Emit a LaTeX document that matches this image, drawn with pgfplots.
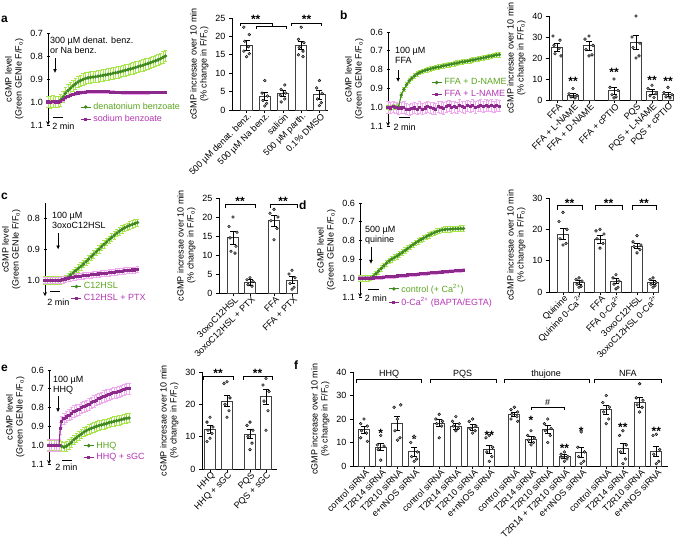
\documentclass[border=0pt]{standalone}
\usepackage{fontspec}
\setmainfont{Liberation Sans}
\setsansfont{Liberation Sans}
\usepackage{pgfplots}
\usepackage{pgfplotstable}
\pgfplotsset{compat=1.18}
\usetikzlibrary{arrows.meta}

\definecolor{dgreen}{HTML}{3E8A1E}
\definecolor{lgreen}{HTML}{A8E64C}
\definecolor{dpurp}{HTML}{8C2A8C}
\definecolor{lpink}{HTML}{F0A8F0}
\definecolor{tgreen}{HTML}{5AA51E}
\definecolor{tpurp}{HTML}{B436B4}
\definecolor{barln}{HTML}{404040}
\definecolor{dotc}{HTML}{A0A0A0}

\newcommand{\fs}{\fontsize{9}{10}\selectfont}
\newcommand{\Fo}{F/F\textsubscript{o}}
\newcommand{\Ca}{Ca\textsuperscript{2+}}
\newcommand{\brk}[4]{\draw[line width=0.7pt] (axis cs:#1,#4) |- (axis cs:#2,#3) -- (axis cs:#2,#4);}
% star glyphs sit high in the font: put their visual centre on the value
\newcommand{\sig}[3]{\node[font=\bfseries\fontsize{12}{12}\selectfont, inner sep=0pt, anchor=base, yshift=-6.8pt] at (axis cs:#1,#2) {#3};}
\newcommand{\plab}[3]{\node[anchor=base west, font=\bfseries\fontsize{12}{12}\selectfont, inner sep=0pt] at (#1pt,-#2pt) {#3};}
\newcommand{\stim}[3]{\draw[-{Latex[length=4pt,width=4pt]}, line width=0.9pt] (axis cs:#1,#2) -- (axis cs:#1,#3);}

\pgfplotsset{
  base/.style={scale only axis, anchor=south west, clip=false,
    /pgf/number format/assume math mode=true,
    tick label style={font=\fs}, label style={font=\fs, align=center},
    axis line style={-, line width=0.7pt, black}, tick style={line width=0.7pt, black},
    tick align=outside, major tick length=3pt},
  trace/.style={base, axis x line=none, axis y line=left, y dir=reverse, xtick=\empty,
    ylabel={cGMP level\\(Green GENIe \Fo)},
    yticklabel style={/pgf/number format/.cd, fixed, fixed zerofill, precision=1},
    legend style={draw=none, fill=none, font=\fs, inner sep=0pt, row sep=0pt, anchor=north west},
    legend cell align=left,
    legend image code/.code={\draw[##1, mark repeat=2, mark phase=2] plot coordinates {(0pt,0pt) (5pt,0pt) (10pt,0pt)};}},
  barax/.style={base, axis x line*=bottom, axis y line*=left, ymin=0,
    ylabel={cGMP incresae over 10 min\\(\% change in \Fo)},
    xticklabel style={rotate=45, anchor=east, inner sep=1pt, xshift=2pt, yshift=-4pt}},
  ebg/.style={draw=none, mark=none, forget plot, error bars/.cd, y dir=both, y fixed=#1,
    error bar style={draw=lgreen, line width=0.6pt},
    error mark options={rotate=90, draw=lgreen, mark size=1.6pt, line width=0.6pt}},
  ebp/.style={draw=none, mark=none, forget plot, error bars/.cd, y dir=both, y fixed=#1,
    error bar style={draw=lpink, line width=0.6pt},
    error mark options={rotate=90, draw=lpink, mark size=1.6pt, line width=0.6pt}},
  lg/.style={dgreen, mark=*, mark size=1.15pt, line width=1.1pt},
  lp/.style={dpurp, mark=square*, mark size=1pt, line width=1.1pt},
  bars/.style={ybar, bar width=#1, bar shift=0pt, fill=white, draw=barln, line width=0.9pt,
    error bars/.cd, y dir=both, y explicit,
    error bar style={black, line width=0.8pt},
    error mark options={rotate=90, black, mark size=3pt, line width=0.8pt}},
  dots/.style={only marks, mark=*, mark size=1.4pt, mark options={draw=none, fill=dotc}},
}

% traces: time (min), F/Fo
\pgfplotstableread[row sep=\\]{t y\\0 1.000\\0.5 1.002\\1 0.998\\1.5 1.000\\2 1.000\\2.5 0.992\\3 0.978\\3.5 0.962\\4 0.950\\4.5 0.940\\5 0.930\\5.5 0.921\\6 0.913\\6.5 0.907\\7 0.902\\7.5 0.898\\8 0.895\\8.5 0.893\\9 0.891\\9.5 0.890\\10 0.888\\10.5 0.886\\11 0.884\\11.5 0.882\\12 0.880\\12.5 0.878\\13 0.875\\13.5 0.873\\14 0.871\\14.5 0.868\\15 0.865\\15.5 0.862\\16 0.859\\16.5 0.856\\17 0.853\\17.5 0.850\\18 0.847\\18.5 0.843\\19 0.840\\19.5 0.836\\20 0.833\\20.5 0.829\\21 0.825\\21.5 0.821\\22 0.817\\22.5 0.812\\23 0.806\\23.5 0.800\\}\Ag
\pgfplotstableread[row sep=\\]{t y\\0 1.000\\0.5 1.001\\1 0.999\\1.5 1.000\\2 1.000\\2.5 0.997\\3 0.990\\3.5 0.982\\4 0.975\\4.5 0.970\\5 0.966\\5.5 0.963\\6 0.961\\6.5 0.959\\7 0.958\\7.5 0.957\\8 0.956\\8.5 0.955\\9 0.955\\9.5 0.954\\10 0.954\\10.5 0.955\\11 0.955\\11.5 0.956\\12 0.956\\12.5 0.957\\13 0.957\\13.5 0.958\\14 0.958\\14.5 0.958\\15 0.959\\15.5 0.959\\16 0.959\\16.5 0.960\\17 0.960\\17.5 0.960\\18 0.960\\18.5 0.960\\19 0.959\\19.5 0.959\\20 0.959\\20.5 0.958\\21 0.958\\21.5 0.958\\22 0.958\\22.5 0.958\\23 0.958\\23.5 0.958\\}\Ap
\pgfplotstableread[row sep=\\]{t y\\0 1.000\\0.5 1.002\\1 0.998\\1.5 1.000\\2 0.998\\2.5 0.935\\3 0.905\\3.5 0.880\\4 0.860\\4.5 0.845\\5 0.833\\5.5 0.823\\6 0.815\\6.5 0.809\\7 0.804\\7.5 0.800\\8 0.796\\8.5 0.792\\9 0.789\\9.5 0.786\\10 0.783\\10.5 0.780\\11 0.777\\11.5 0.774\\12 0.771\\12.5 0.768\\13 0.765\\13.5 0.762\\14 0.759\\14.5 0.757\\15 0.755\\15.5 0.752\\16 0.749\\16.5 0.746\\17 0.743\\17.5 0.740\\18 0.737\\18.5 0.734\\19 0.731\\19.5 0.728\\20 0.725\\20.5 0.722\\21 0.720\\}\Bg
\pgfplotstableread[row sep=\\]{t y\\0 1.000\\0.5 1.004\\1 0.996\\1.5 1.002\\2 1.008\\2.5 1.004\\3 1.000\\3.5 1.010\\4 1.014\\4.5 1.008\\5 1.004\\5.5 1.010\\6 1.000\\6.5 1.010\\7 1.004\\7.5 0.996\\8 1.002\\8.5 1.006\\9 1.010\\9.5 0.996\\10 1.000\\10.5 1.006\\11 0.996\\11.5 0.992\\12 1.000\\12.5 0.996\\13 1.002\\13.5 0.990\\14 0.996\\14.5 1.000\\15 0.992\\15.5 0.996\\16 0.990\\16.5 1.000\\17 0.994\\17.5 0.990\\18 0.996\\18.5 0.990\\19 0.994\\19.5 0.990\\20 0.996\\20.5 0.990\\21 0.994\\}\Bp
\pgfplotstableread[row sep=\\]{t y\\0 1.000\\0.5 1.000\\1 1.000\\1.5 1.000\\2 1.000\\2.5 1.000\\3 1.000\\3.5 0.998\\4 0.994\\4.5 0.989\\5 0.982\\5.5 0.975\\6 0.968\\6.5 0.961\\7 0.954\\7.5 0.947\\8 0.939\\8.5 0.931\\9 0.923\\9.5 0.915\\10 0.907\\10.5 0.899\\11 0.891\\11.5 0.883\\12 0.876\\12.5 0.868\\13 0.861\\13.5 0.854\\14 0.847\\14.5 0.841\\15 0.835\\15.5 0.830\\16 0.826\\16.5 0.822\\17 0.819\\17.5 0.816\\18 0.813\\}\Cg
\pgfplotstableread[row sep=\\]{t y\\0 1.000\\0.5 1.000\\1 1.000\\1.5 1.000\\2 1.000\\2.5 1.000\\3 1.000\\3.5 0.998\\4 0.995\\4.5 0.993\\5 0.991\\5.5 0.989\\6 0.988\\6.5 0.987\\7 0.986\\7.5 0.985\\8 0.984\\8.5 0.983\\9 0.982\\9.5 0.981\\10 0.980\\10.5 0.979\\11 0.978\\11.5 0.977\\12 0.976\\12.5 0.975\\13 0.974\\13.5 0.973\\14 0.972\\14.5 0.971\\15 0.970\\15.5 0.969\\16 0.968\\16.5 0.967\\17 0.966\\17.5 0.966\\18 0.965\\}\Cp
\pgfplotstableread[row sep=\\]{t y\\0 1.000\\0.5 1.001\\1 0.999\\1.5 1.000\\2 0.998\\2.5 0.990\\3 0.976\\3.5 0.962\\4 0.948\\4.5 0.934\\5 0.920\\5.5 0.908\\6 0.898\\6.5 0.890\\7 0.882\\7.5 0.872\\8 0.862\\8.5 0.852\\9 0.842\\9.5 0.832\\10 0.822\\10.5 0.812\\11 0.803\\11.5 0.795\\12 0.787\\12.5 0.779\\13 0.771\\13.5 0.764\\14 0.758\\14.5 0.752\\15 0.747\\15.5 0.743\\16 0.741\\16.5 0.740\\17 0.739\\17.5 0.738\\18 0.737\\18.5 0.737\\19 0.736\\19.5 0.736\\}\Dg
\pgfplotstableread[row sep=\\]{t y\\0 1.000\\0.5 1.000\\1 1.000\\1.5 1.000\\2 1.000\\2.5 0.999\\3 0.998\\3.5 0.997\\4 0.996\\4.5 0.995\\5 0.993\\5.5 0.992\\6 0.991\\6.5 0.990\\7 0.988\\7.5 0.987\\8 0.986\\8.5 0.985\\9 0.983\\9.5 0.982\\10 0.981\\10.5 0.980\\11 0.978\\11.5 0.977\\12 0.976\\12.5 0.975\\13 0.973\\13.5 0.972\\14 0.971\\14.5 0.970\\15 0.968\\15.5 0.967\\16 0.966\\16.5 0.965\\17 0.963\\17.5 0.962\\18 0.961\\18.5 0.960\\19 0.958\\19.5 0.957\\}\Dp
\pgfplotstableread[row sep=\\]{t y\\0 1.000\\0.5 1.000\\1 1.000\\1.5 1.000\\2 1.000\\2.5 1.005\\3 1.010\\3.5 1.005\\4 0.995\\4.5 0.985\\5 0.970\\5.5 0.960\\6 0.950\\6.5 0.940\\7 0.930\\7.5 0.922\\8 0.915\\8.5 0.910\\9 0.905\\9.5 0.900\\10 0.895\\10.5 0.892\\11 0.888\\11.5 0.885\\12 0.880\\12.5 0.877\\13 0.873\\13.5 0.870\\14 0.867\\14.5 0.864\\15 0.860\\15.5 0.857\\16 0.855\\}\Eg
\pgfplotstableread[row sep=\\]{t y\\0 1.000\\0.5 1.000\\1 1.000\\1.5 1.000\\2 1.000\\2.25 0.910\\2.5 0.875\\3 0.860\\3.5 0.850\\4 0.840\\4.5 0.830\\5 0.820\\5.5 0.815\\6 0.810\\6.5 0.800\\7 0.795\\7.5 0.790\\8 0.783\\8.5 0.775\\9 0.767\\9.5 0.760\\10 0.753\\10.5 0.747\\11 0.740\\11.5 0.735\\12 0.730\\12.5 0.727\\13 0.722\\13.5 0.720\\14 0.715\\14.5 0.710\\15 0.705\\15.5 0.700\\16 0.700\\}\Ep

\begin{document}
\begin{tikzpicture}
\useasboundingbox (0pt,0pt) rectangle (677pt,-541pt);
\plab{1}{22}{a}
\plab{340}{19}{b}
\plab{1}{199}{c}
\plab{299}{209}{d}
\plab{1}{371}{e}
\plab{294}{369}{f}

% ---- a: trace
\begin{axis}[trace, at={(48pt,-125pt)}, width=120pt, height=92pt,
  xmin=0, xmax=24, ymin=0.7, ymax=1.1, ytick={0.7,0.8,0.9,1.0,1.1},
  legend style={at={(axis cs:6.4,0.995)}}]
  \addplot[ebg=0.025] table {\Ag};
  \addplot[ebp=0.006] table {\Ap};
  \addplot[lg] table {\Ag}; \addlegendentry{\textcolor{tgreen}{denatonium benzoate}}
  \addplot[lp] table {\Ap}; \addlegendentry{\textcolor{tpurp}{sodium benzoate}}
  \node[anchor=north west, align=left, font=\fs, inner sep=0pt] at (axis cs:0.4,0.718) {300 µM denat. benz.\\or Na benz.};
  \stim{1.4}{0.809}{0.874}
  \draw[line width=0.9pt] (axis cs:1,1.065) -- (axis cs:3,1.065);
  \node[font=\fs] at (axis cs:3.1,1.105) {2 min};
\end{axis}

% ---- a: bars
\begin{axis}[barax, at={(232pt,-110pt)}, width=96.5pt, height=92pt,
  xmin=0.2, xmax=5.5, ymax=25, ytick={0,5,...,25}, xtick={1,...,5},
  xticklabels={500 µM denat. benz., 500 µM Na benz., salicin, 500 µM parth., 0.1\% DMSO}]
  \addplot[bars=11.5pt] coordinates {(1,17.5) +- (0,1.3) (2,3.6) +- (0,1.1) (3,4.5) +- (0,0.9) (4,17.6) +- (0,1.1) (5,4.2) +- (0,1.2)};
  \addplot[dots] coordinates {(0.85,22.5) (1.15,20.5) (0.9,18.7) (1.1,17.2) (0.85,16) (1.15,15.3) (1,14.5)
    (2,8) (1.85,4.6) (2.15,3.8) (1.9,2.6) (2.1,1.8) (2,1.1)
    (3.1,6.8) (2.9,5.6) (3.15,4.6) (2.85,4) (3.1,3) (2.9,2.2)
    (4,22.5) (3.85,19.2) (4.15,18.3) (3.9,17) (4.1,16) (3.85,15) (4.1,14.5)
    (5,8) (4.85,6) (5.15,4.5) (4.9,3) (5.1,2) (5,1.2)};
  \brk{0.65}{2.4}{23.6}{22.8}
  \brk{1.55}{3.2}{22.8}{22}
  \brk{3.47}{5.12}{23.6}{22.8}
  \sig{1.5}{25.4}{**}
  \sig{4.3}{25.4}{**}
\end{axis}

% ---- b: trace
\begin{axis}[trace, at={(388pt,-126pt)}, width=114pt, height=94pt,
  xmin=0, xmax=21.5, ymin=0.6, ymax=1.1, ytick={0.6,0.7,0.8,0.9,1.0,1.1},
  legend style={at={(axis cs:8.1,0.837)}}]
  \addplot[ebg=0.012] table {\Bg};
  \addplot[ebp=0.03] table {\Bp};
  \addplot[lg] table {\Bg}; \addlegendentry{\textcolor{tgreen}{FFA + D-NAME}}
  \addplot[lp] table {\Bp}; \addlegendentry{\textcolor{tpurp}{FFA + L-NAME}}
  \node[anchor=north west, align=left, font=\fs, inner sep=0pt] at (axis cs:1.3,0.68) {100 µM\\FFA};
  \stim{1.9}{0.802}{0.866}
  \draw[line width=0.9pt] (axis cs:2.1,1.052) -- (axis cs:4.1,1.052);
  \node[font=\fs] at (axis cs:3.15,1.105) {2 min};
\end{axis}

% ---- b: bars
\begin{axis}[barax, at={(549pt,-100pt)}, width=124pt, height=84pt,
  xmin=0, xmax=124, ymax=40, ytick={0,10,...,40}, xtick={8,24,40,65,87,103,119},
  xticklabels={FFA, FFA + L-NAME, FFA + D-NAME, FFA + cPTIO, PQS, PQS + L-NAME, PQS + cPTIO}]
  \addplot[bars=11pt] coordinates {(8,25) +- (0,2) (24,2.3) +- (0,0.9) (40,25.8) +- (0,2) (65,4.4) +- (0,1.7) (87,27.5) +- (0,3.5) (103,3.9) +- (0,1.3) (119,2.8) +- (0,1)};
  \addplot[dots] coordinates {(4,30.5) (11,28.5) (5,26) (10,24.5) (6,22) (12,21)
    (24,5.5) (20,3) (28,2.2) (22,1.5) (26,1)
    (40,30.5) (36,29) (44,26) (37,24) (43,21.5) (40,21)
    (65,10) (61,6) (69,4.5) (63,2.5) (67,1.5) (65,1)
    (87,40) (83,30) (91,27) (84,25) (90,21) (87,20)
    (103,7) (99,5.5) (107,3) (101,2) (105,1.2)
    (119,6) (115,3.5) (123,2.5) (117,1.5) (121,1)};
  \sig{24}{10}{**}
  \sig{65}{14.5}{**}
  \sig{103}{10.5}{**}
  \sig{119}{10}{**}
\end{axis}

% ---- c: trace
\begin{axis}[trace, at={(45pt,-296pt)}, width=95pt, height=93pt,
  xmin=0, xmax=18.5, ymin=0.75, ymax=1.05, ytick={0.8,0.9,1.0},
  legend style={at={(axis cs:5,1.0)}}]
  \addplot[ebg=0.012] table {\Cg};
  \addplot[ebp=0.01] table {\Cp};
  \addplot[lg] table {\Cg}; \addlegendentry{\textcolor{tgreen}{C12HSL}}
  \addplot[lp] table {\Cp}; \addlegendentry{\textcolor{tpurp}{C12HSL + PTX}}
  \node[anchor=north west, align=left, font=\fs, inner sep=0pt] at (axis cs:1.36,0.778) {100 µM\\3oxoC12HSL};
  \stim{2.55}{0.848}{0.9}
  \draw[line width=0.9pt] (axis cs:1,1.035) -- (axis cs:3,1.035);
  \node[font=\fs] at (axis cs:2.6,1.07) {2 min};
\end{axis}

% ---- c: bars
\begin{axis}[barax, at={(219pt,-293pt)}, width=79pt, height=95pt,
  xmin=0, xmax=79, ymax=25, ytick={0,5,...,25}, xtick={14,31,55,73},
  xticklabels={3oxoC12HSL, 3oxoC12HSL + PTX, FFA, FFA + PTX}]
  \addplot[bars=11pt] coordinates {(14,14.5) +- (0,1.7) (31,2.8) +- (0,0.7) (55,19) +- (0,1.4) (73,3.4) +- (0,0.9)};
  \addplot[dots] coordinates {(14,20) (10,17.5) (18,16) (11,14.5) (17,12.3) (12,11) (16,10.5)
    (31,4) (28,3.5) (34,3) (29,2.2) (33,1.8)
    (55,22) (51,21) (59,20) (52,19) (58,17) (55,14)
    (73,6) (70,5) (76,4) (71,2.5) (75,1.5) (73,1)};
  \brk{6}{36}{23.2}{22.3}
  \brk{51}{78}{23.2}{22.3}
  \sig{21}{24.8}{**}
  \sig{64}{24.8}{**}
\end{axis}

% ---- d: trace
\begin{axis}[trace, at={(360pt,-297pt)}, width=105pt, height=94pt,
  xmin=0, xmax=19.8, ymin=0.6, ymax=1.1, ytick={0.6,0.7,0.8,0.9,1.0,1.1},
  legend style={at={(axis cs:5.3,1.02)}}]
  \addplot[ebg=0.015] table {\Dg};
  \addplot[ebp=0.008] table {\Dp};
  \addplot[lg] table {\Dg}; \addlegendentry{\textcolor{tgreen}{control (+ \Ca)}}
  \addplot[lp] table {\Dp}; \addlegendentry{\textcolor{tpurp}{0-\Ca{} (BAPTA/EGTA)}}
  \node[anchor=north west, align=left, font=\fs, inner sep=0pt] at (axis cs:0.94,0.72) {500 µM\\quinine};
  \stim{2.07}{0.834}{0.924}
  \draw[line width=0.9pt] (axis cs:1.5,1.06) -- (axis cs:3.5,1.06);
  \node[font=\fs] at (axis cs:3,1.105) {2 min};
\end{axis}

% ---- d: bars
\begin{axis}[barax, at={(549pt,-292pt)}, width=109pt, height=94pt,
  xmin=0, xmax=109, ymax=30, ytick={0,10,...,30}, xtick={14,30,51,67,88,104},
  xticklabels={Quinine, Quinine 0-\Ca, FFA, FFA 0-\Ca, 3oxoC12HSL, 3oxoC12HSL 0-\Ca}]
  \addplot[bars=11pt] coordinates {(14,18.5) +- (0,1.8) (30,3) +- (0,0.7) (51,16.8) +- (0,1.3) (67,3.5) +- (0,0.9) (88,14.6) +- (0,0.8) (104,3) +- (0,0.6)};
  \addplot[dots] coordinates {(14,25.4) (10,22.5) (18,20) (11,17) (17,15.5) (14,15)
    (30,4.5) (27,4) (33,3.5) (28,2.5) (32,1.8) (30,1.5)
    (51,20) (47,19.5) (55,18.5) (48,17) (54,15.5) (51,14)
    (67,5.5) (64,4.5) (70,3.5) (65,2.5) (69,1.5) (67,1)
    (88,18) (84,16) (92,15) (85,14.5) (91,13.5) (88,12.5)
    (104,4.5) (101,4) (107,3) (102,2.5) (106,2) (104,1.5)};
  \brk{8}{33}{27.5}{26.3}
  \brk{46}{73}{27.5}{26.3}
  \brk{83}{107}{27.5}{26.3}
  \sig{20.5}{29.2}{**}
  \sig{59.5}{29.2}{**}
  \sig{95}{29.2}{**}
\end{axis}

% ---- e: trace
\begin{axis}[trace, at={(49pt,-464pt)}, width=82pt, height=94pt,
  xmin=0, xmax=16.4, ymin=0.6, ymax=1.1, ytick={0.6,0.7,0.8,0.9,1.0,1.1},
  legend style={at={(axis cs:6.8,0.97)}}]
  \addplot[ebg=0.025] table {\Eg};
  \addplot[ebp=0.03] table {\Ep};
  \addplot[lg] table {\Eg}; \addlegendentry{\textcolor{tgreen}{HHQ}}
  \addplot[lp] table {\Ep}; \addlegendentry{\textcolor{tpurp}{HHQ + sGC}}
  \node[anchor=north west, align=left, font=\fs, inner sep=0pt] at (axis cs:0.8,0.63) {100 µM\\HHQ};
  \stim{1.8}{0.74}{0.825}
  \draw[line width=0.9pt] (axis cs:2.5,1.079) -- (axis cs:4.5,1.079);
  \node[font=\fs] at (axis cs:3.5,1.115) {2 min};
\end{axis}

% ---- e: bars
\begin{axis}[barax, at={(202pt,-469pt)}, width=75pt, height=97pt,
  xmin=0, xmax=75, ymax=30, ytick={0,10,...,30}, xtick={8,25,48,64},
  xticklabels={HHQ, HHQ + sGC, PQS, PQS + sGC}]
  \addplot[bars=11pt] coordinates {(8,12.2) +- (0,1.2) (25,21) +- (0,1.7) (48,10.8) +- (0,1.4) (64,22.3) +- (0,2.4)};
  \addplot[dots] coordinates {(8,16) (5,14.5) (11,13) (6,12) (10,11) (8,9.5) (5,8.5)
    (25,27) (22,26.5) (28,22) (23,20) (27,18) (25,16)
    (48,14.5) (45,13.5) (51,12) (46,10) (50,8) (48,6)
    (64,28) (61,26) (67,24) (62,21) (66,18) (64,12)};
  \brk{1}{31}{28.6}{27.5}
  \brk{41}{70}{28.6}{27.5}
  \sig{16}{30.5}{**}
  \sig{55.5}{30.5}{**}
\end{axis}

% ---- f: bars
\begin{axis}[barax, at={(353pt,-466pt)}, width=315pt, height=94pt,
  ylabel={cGMP increase over 10 min\\(\% change in \Fo)},
  xmin=0.34, xmax=19.2, ymax=40, ytick={0,10,...,40},
  xtick={1,2,3,4,5.5,6.5,7.5,8.5,10,11,12,13,14,15.5,16.5,17.5,18.5},
  xticklabels={control siRNA, T2R14 siRNA, T2R10 siRNA, e+nNOS siRNA,
    control siRNA, T2R14 siRNA, T2R10 siRNA, e+nNOS siRNA,
    control siRNA, T2R14 siRNA, T2R10 siRNA, T2R14 + T2R10 siRNA, e+nNOS siRNA,
    control siRNA, T2R14 siRNA, T2R10 siRNA, e+nNOS siRNA}]
  \addplot[bars=11pt] coordinates {(1,15.5) +- (0,1.5) (2,8) +- (0,1.5) (3,18) +- (0,3) (4,6) +- (0,1.8)
    (5.5,18.3) +- (0,1.5) (6.5,17) +- (0,1.3) (7.5,16.5) +- (0,1.2) (8.5,7) +- (0,1.6)
    (10,22) +- (0,1) (11,11.5) +- (0,1.3) (12,15.5) +- (0,1.6) (13,4) +- (0,0.8) (14,5.8) +- (0,2)
    (15.5,24) +- (0,2) (16.5,7.5) +- (0,2.3) (17.5,27) +- (0,2) (18.5,6.3) +- (0,2.2)};
  \addplot[dots] coordinates {(1,20) (0.8,18) (1.2,17) (0.85,15) (1.15,14) (0.8,12) (1.2,10.5)
    (2,13) (1.8,9) (2.2,8.5) (1.85,7) (2,2.5)
    (2.8,25) (3.2,26) (3,20) (2.85,15) (3.15,12) (3,11)
    (4,12.5) (3.8,10) (4.2,6) (3.85,4) (4.15,3) (4,2)
    (5.5,22) (5.3,20) (5.7,19) (5.35,18) (5.65,17) (5.5,12)
    (6.5,21) (6.3,19) (6.7,18) (6.35,17) (6.65,16) (6.5,15)
    (7.5,20) (7.3,19) (7.7,17) (7.35,16) (7.65,15) (7.5,14)
    (8.5,13) (8.3,12) (8.7,8) (8.35,6) (8.65,4) (8.5,2)
    (10,25) (9.8,24) (10.2,23) (9.85,22) (10.15,21) (9.8,20) (10.2,19)
    (11,15) (10.8,13) (11.2,12) (10.85,11) (11.15,10) (11,9)
    (12,20) (11.8,18) (12.2,16) (11.85,15) (12.15,13) (12,10)
    (13,6) (12.8,5) (13.2,4) (12.85,3.5) (13.15,3) (13,2)
    (14,14.5) (13.8,8) (14.2,6) (13.85,4) (14.15,2) (14,1)
    (15.5,30) (15.3,27) (15.7,25) (15.35,23) (15.65,20) (15.5,18)
    (16.5,15) (16.3,13) (16.7,9) (16.35,6) (16.65,3) (16.5,1)
    (17.5,35) (17.3,29) (17.7,28) (17.35,26) (17.65,25) (17.5,23)
    (18.5,13.5) (18.3,13) (18.7,7) (18.35,5) (18.65,2) (18.5,1)};
  \brk{0.52}{4.44}{37}{35.5}
  \brk{4.95}{8.9}{37}{35.5}
  \brk{9.38}{14.5}{37}{35.5}
  \brk{14.8}{18.8}{37}{35.5}
  \node[font=\fs, anchor=base] at (axis cs:2.5,38.3) {HHQ};
  \node[font=\fs, anchor=base] at (axis cs:6.9,38.3) {PQS};
  \node[font=\fs, anchor=base] at (axis cs:11.9,38.3) {thujone};
  \node[font=\fs, anchor=base] at (axis cs:16.8,38.3) {NFA};
  \brk{11}{13}{25}{23.8}
  \node[font=\fs, inner sep=0pt] at (axis cs:12,27) {\#};
  \sig{2}{15}{*}
  \sig{4}{12.5}{*}
  \sig{8.5}{14}{**}
  \sig{11}{20.5}{*}
  \sig{13}{8.5}{**}
  \sig{14}{16}{*}
  \sig{16.5}{17.5}{**}
  \sig{18.5}{16}{**}
\end{axis}
\end{tikzpicture}
\end{document}
